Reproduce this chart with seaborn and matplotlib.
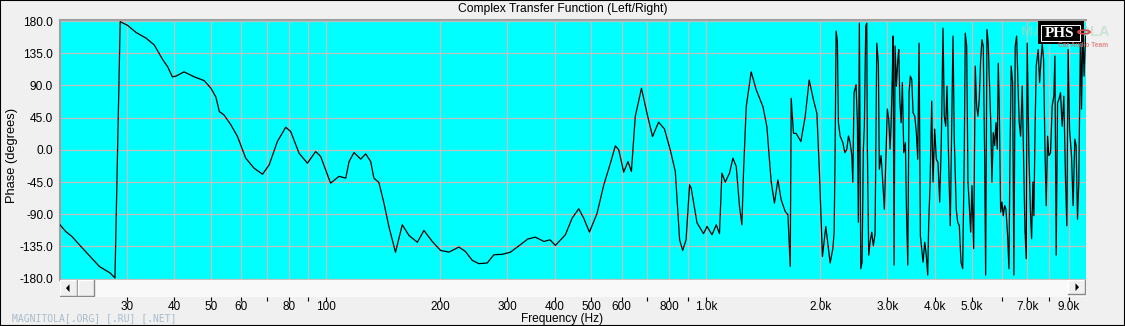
import numpy as np
import pandas as pd
import matplotlib
matplotlib.use("Agg")
import matplotlib.pyplot as plt
import seaborn as sns
from matplotlib.patches import Rectangle, Polygon, Circle
from matplotlib.ticker import FixedLocator, FixedFormatter, NullLocator, NullFormatter

# ---------------- data ----------------
freq_low = [20.0, 20.7, 21.5, 22.7, 25.4, 27.1, 27.9, 28.8, 30.1, 31.7, 33.7, 35.4, 37.3, 38.4,
            39.5, 40.4, 42.4, 45.1, 47.9, 49.9, 51.4, 52.5, 54.0, 56.3, 58.6, 61.6, 64.8, 68.2,
            71.0, 74.6, 78.5, 80.9, 85.1, 89.5, 94.1, 97.0, 103, 108.4, 112.9, 115.2, 118.7,
            123.6, 127.4, 131.3, 133.9, 138, 142.3, 146.6, 152.6, 159, 165.6, 174.2, 181.3,
            190.7, 200.5]
phase_low = [-104.7, -114, -121, -135, -163, -172, -179, 179, 174, 164, 156, 146.5, 125.6, 116,
             102, 103, 109, 102, 96.7, 86, 74, 53.5, 48.8, 35, 18.6, -11.6, -25.6, -34,
             -21, 11.6, 31.6, 25.6, -4.7, -18.6, -2.3, -9.3, -46.5, -37, -39.5, -16.3, -3.7,
             -13, -5.6, -16.3, -39.5, -45.5, -74.4, -107, -143, -104.7, -119.6, -129, -112.6,
             -128, -140.5]

freq_mid = [211, 224, 233, 243, 253, 266, 277, 291, 306, 325, 340, 356, 375, 389, 402, 427,
            445, 463, 477, 494, 517, 539, 561, 578, 590, 608, 624, 637, 652, 677, 700, 724,
            751, 778, 806, 831, 843, 853, 869, 887, 906, 915, 948, 986, 1007, 1038, 1065,
            1086, 1102, 1125, 1154, 1178, 1202, 1226, 1244, 1256, 1277, 1316, 1357, 1413,
            1447, 1485, 1515, 1547, 1578, 1617, 1644, 1667, 1677, 1700, 1728, 1778, 1825,
            1870, 1919, 1959, 1990, 2026, 2068, 2123]
phase_mid = [-142.8, -135.8, -141.9, -154.4, -159, -158, -146.5, -146, -143, -132.6, -124.6,
             -121.9, -128, -125.6, -133.5, -118.6, -95.3, -82.3, -95.3, -114.8, -89.3, -48.8,
             -18.6, 5.6, 0, -31, -16.3, -30.2, 46.5, 86, 51.2, 18.6, 38.6, 29.3, 0, -30, -83.7,
             -125.6, -140.5, -125.6, -48.8, -53.5, -102, -117, -107, -118.6, -104.7, -117,
             -32.5, -45, -32.5, -11.6, -23.2, -79, -104.7, -32.5, 60.4, 109, 83.7, 60.4, 32.5,
             -44, -74.4, -41.9, -69.8, -86, -90.7, -162.8, 72, 23.2, 23, 11.6, 46.5, 97.7,
             69.8, 51, -32.5, -149, -107, -158]

freq_high = [2158, 2175, 2188, 2201, 2218, 2232, 2255, 2293, 2321, 2349, 2372, 2396, 2421, 2435,
             2454, 2484, 2504, 2519, 2534, 2556, 2576, 2596, 2612, 2634, 2650, 2660, 2682, 2704,
             2732, 2758, 2787, 2816, 2843, 2860, 2890, 2920, 2948, 2979, 3002, 3028, 3052, 3070,
             3094, 3108, 3127, 3146, 3171, 3198, 3217, 3237, 3263, 3288, 3316, 3349, 3369, 3398,
             3424, 3451, 3481, 3508, 3545, 3579, 3609, 3638, 3667, 3697, 3727, 3765, 3801, 3834,
             3857, 3888, 3928, 3959, 3999, 4039, 4081, 4122, 4162, 4206, 4239, 4275, 4309, 4361,
             4395, 4433, 4468, 4503, 4557, 4597, 4642, 4690, 4738, 4784, 4813, 4854, 4892, 4932,
             4973, 5012, 5064, 5113, 5157, 5197, 5238, 5283, 5325, 5366, 5412, 5445, 5489, 5532,
             5565, 5613, 5657, 5702, 5751, 5796, 5842, 5877, 5913, 5963, 6011, 6058, 6109, 6158,
             6220, 6270, 6308, 6357, 6412, 6462, 6513, 6569, 6621, 6673, 6730, 6796, 6865, 6908,
             6962, 7004, 7077, 7149, 7193, 7250, 7294, 7338, 7396, 7486, 7550, 7596, 7670, 7735,
             7796, 7857, 7924, 7986, 8069, 8147, 8230, 8282, 8347, 8418, 8484, 8570, 8655, 8744,
             8835, 8904, 8974, 9051, 9160, 9249, 9345, 9419, 9499, 9574, 9674, 9732, 9808, 9886,
             9970]
phase_high = [-138, -115, 1, 166, 152, 38, 19.5, 10, -4, 1, 19.5, 10, -8, -45,
              80, 91, 38, -101, 177, -166, -157, 1, 33, 173, 177, 1, -147, -129,
              -115, -134, -117, 149, 121, -27, -8, -45, -83, -4, 57, 43, 1, 33,
              103, 159, -161, 145, 89, 126, 140, 70, 38, 94, -4, 10, -78, -161,
              80, 103, 98, 52, 47, 24, -13, 149, -120, -138, -157, -129, -147, -175,
              -101, -50, 68, -45, 29, -13, -18, -73, 10, 170, 47, 33, 89, -36,
              -106, 29, 159, 15, -83, -101, -106, -157, -166, -4, 163, 145, -45, -78,
              -115, -50, -138, 117, 61, 47, 70, 126, 154, 145, -8, -175, 168, 149,
              103, 43, -45, 24, 6, 38, 1, 121, 61, -87, -73, -92, -78, -83,
              -120, -166, -13, 117, 94, -175, 145, 159, 94, 38, 19, 89, -36, -110,
              -152, 149, -8, -92, -124, -45, -92, 15, 117, 140, 94, 117, 149, 126,
              6, -78, 19, -8, -4, 61, 75, 131, -147, 66, 70, 80, 33, 75,
              -45, -106, 140, 29, -8, -78, 15, 6, -97, -45, 173, 57, 168, 103,
              159]

grid_freqs = [20, 30, 40, 50, 60, 70, 80, 90, 100, 200, 300, 400, 500, 600, 700, 800, 900,
              1000, 2000, 3000, 4000, 5000, 6000, 7000, 8000, 9000]
x_major = [30, 40, 50, 60, 80, 100, 200, 300, 400, 500, 600, 800, 1000, 2000, 3000, 4000,
           5000, 7000, 9000]
x_major_labels = ["30", "40", "50", "60", "80", "100", "200", "300", "400", "500", "600", "800",
                  "1.0k", "2.0k", "3.0k", "4.0k", "5.0k", "7.0k", "9.0k"]
x_minor = [70, 90, 700, 900, 6000, 8000]
y_ticks = [180, 135, 90, 45, 0, -45, -90, -135, -180]

# ---------------- figure ----------------
W, H = 1125, 326
plt.rcParams['font.family'] = ['Liberation Sans', 'DejaVu Sans']
fig = plt.figure(figsize=(W / 100, H / 100), dpi=100, facecolor="#F0F0F0")


def fx(px):
    return px / W


def fy(py):
    return 1 - py / H


ax = fig.add_axes([fx(60), fy(279.5), fx(1086) - fx(60), fy(19.5) - fy(279.5)])
ax.set_facecolor("#00FFFF")

df = pd.DataFrame({
    "freq": freq_low + freq_mid + freq_high,
    "phase": phase_low + phase_mid + phase_high,
})
sns.lineplot(data=df, x="freq", y="phase", ax=ax, color="black", linewidth=0.9,
             estimator=None, sort=False, zorder=3)
ax.set_xscale("log")
ax.set_xlim(20, 10000)
ax.set_ylim(-181.1, 182.1)
ax.set_xlabel("")
ax.set_ylabel("")

ax.xaxis.set_major_locator(FixedLocator(grid_freqs))
ax.xaxis.set_major_formatter(NullFormatter())
ax.xaxis.set_minor_locator(NullLocator())
ax.tick_params(axis="x", length=0, labelbottom=False)
ax.set_yticks(y_ticks)
ax.set_yticklabels([f"{v:.1f}" for v in y_ticks])
ax.tick_params(axis="y", length=0, pad=5, labelsize=8.6)
ax.set_axisbelow(True)
ax.grid(True, color="#C0C0C0", linewidth=0.9)
for s in ["bottom", "right"]:
    ax.spines[s].set_visible(False)
for s in ["left", "top"]:
    ax.spines[s].set_color("#A0A0A0")
    ax.spines[s].set_linewidth(1.5)

# ---------------- scrollbar + frequency axis ----------------
sax = fig.add_axes([fx(60), fy(297), fx(1086) - fx(60), 17 / H])
sax.set_xscale("log")
sax.set_xlim(20, 10000)
sax.set_ylim(0, 1)
sax.set_facecolor("#F9F9F9")
for s in sax.spines.values():
    s.set_visible(False)
sax.set_yticks([])
sax.xaxis.set_major_locator(FixedLocator(x_major))
sax.xaxis.set_major_formatter(FixedFormatter(x_major_labels))
sax.xaxis.set_minor_locator(FixedLocator(x_minor))
sax.xaxis.set_minor_formatter(NullFormatter())
sax.tick_params(axis="x", which="both", direction="out", length=2.6, width=0.8,
                color="black", labelsize=8.5, pad=0.4)

aw = 1026.0


def button(x0, x1, y0=0.0, y1=1.0):
    sax.add_patch(Rectangle((x0 / aw, y0), (x1 - x0) / aw, y1 - y0, transform=sax.transAxes,
                            facecolor="#F0F0F0", edgecolor="none", zorder=3))
    sax.plot([x0 / aw, x0 / aw, x1 / aw], [y0, y1, y1], transform=sax.transAxes,
             color="white", lw=1, zorder=4)
    sax.plot([x0 / aw, x1 / aw, x1 / aw], [y0, y0, y1], transform=sax.transAxes,
             color="#888888", lw=1, zorder=4)


button(0, 16.5, 0.05, 1.0)
button(17.5, 34, 0.05, 1.0)
button(1008, 1025, 0.15, 1.0)
sax.add_patch(Polygon([[6 / aw, 0.52], [9.5 / aw, 0.75], [9.5 / aw, 0.29]], closed=True,
                      transform=sax.transAxes, facecolor="black", edgecolor="none", zorder=5))
sax.add_patch(Polygon([[1019 / aw, 0.58], [1015.5 / aw, 0.81], [1015.5 / aw, 0.35]], closed=True,
                      transform=sax.transAxes, facecolor="black", edgecolor="none", zorder=5))

# ---------------- texts ----------------
fig.text(0.5, fy(9), "Complex Transfer Function (Left/Right)", ha="center", va="center",
         fontsize=8.75)
fig.text(fx(12), fy(155), "Phase (degrees)", rotation=90, ha="center", va="center", fontsize=9.3)
fig.text(0.5, fy(322.3), "Frequency (Hz)", ha="center", va="baseline", fontsize=8.6)
fig.text(fx(12), fy(318), "MAGNITOLA[.ORG] [.RU] [.NET]", ha="left", va="center",
         family="DejaVu Sans Mono", fontsize=7, color="#A8BCCC")

# ---------------- logo ----------------
fig.text(fx(1065), fy(32), "MAGNITOLA", ha="center", va="center", fontsize=10.5,
         fontweight="bold", color="#A8D8B8", alpha=0.5, zorder=2)
fig.patches.append(Rectangle((fx(1038), fy(44)), fx(1084) - fx(1038), fy(21) - fy(44),
                             transform=fig.transFigure, facecolor="black", edgecolor="none",
                             zorder=3))
fig.patches.append(Rectangle((fx(1041), fy(41)), fx(1080) - fx(1041), fy(25) - fy(41),
                             transform=fig.transFigure, facecolor="none", edgecolor="white",
                             lw=0.7, zorder=4))
fig.text(fx(1060), fy(33.5), "PHS", ha="center", va="center", family="Liberation Serif",
         fontsize=11, fontweight="bold", color="white", zorder=5)
fig.patches.append(Circle((fx(1084), fy(32)), 6 / W, transform=fig.transFigure,
                          facecolor="none", edgecolor="#E04848", lw=1.3, zorder=5))
fig.text(fx(1083), fy(45.5), "Car Audio Team", ha="center", va="center", fontsize=4.8,
         fontweight="bold", color="#E07070", alpha=0.8, zorder=5)

# ---------------- outer border ----------------
fig.patches.append(Rectangle((0, 0), 1, 1, transform=fig.transFigure, fill=False,
                             edgecolor="black", lw=1.5, zorder=10))

fig.savefig("out.png", dpi=100, facecolor=fig.get_facecolor())
